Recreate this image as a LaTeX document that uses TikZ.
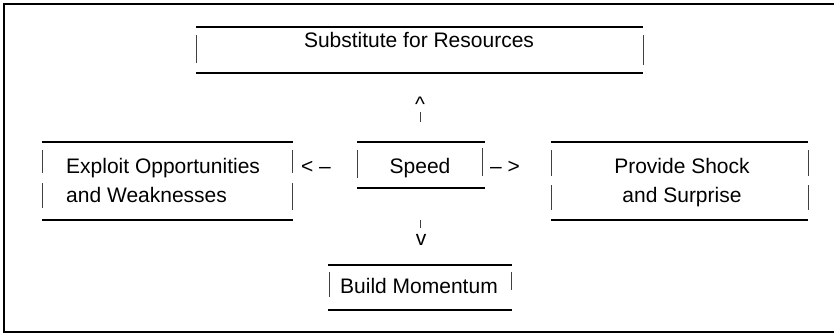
\documentclass[tikz,border=0pt]{standalone}
\usepackage{fontspec}
\setmainfont{Liberation Sans}
\tikzset{
	lbl/.style={inner sep=0pt, anchor=base, font=\fontsize{21}{24}\selectfont},
	rule/.style={line width=1.6pt},
	sidebar/.style={line width=0.7pt, black!75},
}
\begin{document}
\begin{tikzpicture}[x=1pt, y=-1pt, line cap=butt]
			\useasboundingbox (0,0) rectangle (834,334);
			% frame
			\draw[rule] (834,4)--(4,4)--(4,332)--(834,332);
			% boxes
			\node[lbl] (subst) at (419,48) {Substitute for Resources};
			\draw[rule] (196,27)--(643,27) (196,73)--(643,73);
			\draw[sidebar] (196,35)--(196,63) (643,35)--(643,65);
			\node[lbl] (speed) at (420,173) {Speed};
			\draw[rule] (357,142)--(485,142) (357,188)--(485,188);
			\draw[sidebar] (357,150)--(357,178) (482,148)--(482,176);
			% base anchor of a two-line node sits on its last line
			\node[lbl, anchor=base west, align=left, font=\fontsize{21}{29}\selectfont] (exploit) at (66,202) {Exploit Opportunities\\and Weaknesses};
			\draw[rule] (42,142)--(293,142) (42,220)--(293,220);
			\draw[sidebar] (42,150)--(42,173) (42,183)--(42,208) (292,150)--(292,173) (292,183)--(292,210);
			\node[lbl, align=center, font=\fontsize{21}{29}\selectfont] (shock) at (682,202) {Provide Shock\\and Surprise};
			\draw[rule] (551,142)--(808,142) (551,220)--(808,220);
			\draw[sidebar] (551,150)--(551,176) (551,185)--(551,210) (808,150)--(808,176) (808,185)--(808,210);
			\node[lbl] (moment) at (419,293) {Build Momentum};
			\draw[rule] (328,265)--(512,265) (328,310)--(512,310);
			\draw[sidebar] (329,272)--(329,297) (511,272)--(511,290);
			% arrows
			\node[lbl] (toleft) at (316,173) {< --};
			\node[lbl] (toright) at (505,173) {-- >};
			\node[lbl] (uphead) at (420,111) {\textasciicircum};
			\draw[sidebar] (420,112)--(420,122);
			\draw[sidebar] (420,220)--(420,228);
			\node[lbl] (downhead) at (421,245) {v};
		\end{tikzpicture}
\end{document}
